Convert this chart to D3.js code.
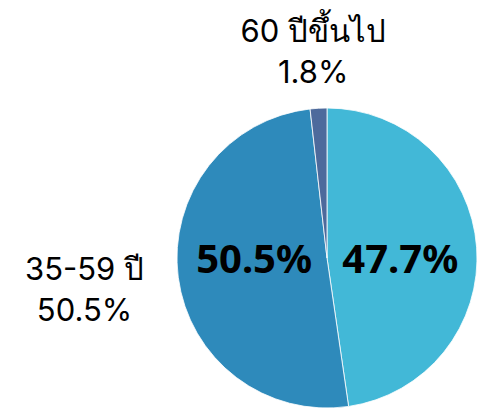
<!DOCTYPE html>
<html>
<head>
<meta charset="utf-8">
<script src="https://cdn.jsdelivr.net/npm/d3@7"></script>
<style>
  body { margin: 0; background: #fff; }
  text { font-family: "Noto Sans", "DejaVu Sans", sans-serif; }
  text.outer { font-family: Inter, "Noto Sans", sans-serif; }
</style>
</head>
<body>
<div id="chart"></div>
<script>
var svgWidth = 482;
var svgHeight = 410;

// data
var groups = ["15-34 ปี", "35-59 ปี", "60 ปีขึ้นไป"];
var shares = [47.7, 50.5, 1.8];
var colors = ["#42b8d7", "#2e8abb", "#4d6a9c"];

var cx = 327, cy = 258, radius = 150;

var svg = d3.select("#chart")
  .append("svg")
  .attr("width", svgWidth)
  .attr("height", svgHeight);

var pieData = d3.pie().sort(null)(shares);

var arc = d3.arc().innerRadius(0).outerRadius(radius);

var chartGroup = svg.append("g")
  .attr("transform", `translate(${cx}, ${cy})`);

chartGroup.selectAll("path")
  .data(pieData)
  .enter()
  .append("path")
  .attr("d", arc)
  .attr("fill", (d, i) => colors[i])
  .attr("stroke", "#fff")
  .attr("stroke-width", 0.8);

function midAngle(d) { return (d.startAngle + d.endAngle) / 2; }

// big bold values inside the two large slices
var inR = radius * 0.49;
chartGroup.selectAll("text.inner")
  .data(pieData.filter(d => d.value > 10))
  .enter()
  .append("text")
  .attr("class", "inner")
  .attr("x", d => inR * Math.sin(midAngle(d)))
  .attr("y", 15)
  .attr("text-anchor", "middle")
  .style("font-size", "40px")
  .style("font-weight", "bold")
  .attr("fill", "#000")
  .text(d => d.value.toFixed(1) + "%");

// outside labels: name + share, dropped if they fall off the canvas
var outR = radius * 1.63;
var lineH = 41;
var outer = pieData.map(function(d, i) {
  var x = cx + outR * Math.sin(midAngle(d));
  var y = cy - outR * Math.cos(midAngle(d));
  return { x: x, y: Math.max(y, lineH + 10), name: groups[i], value: d.value };
}).filter(d => d.x > 0 && d.x < svgWidth);

var outerText = svg.selectAll("text.outer")
  .data(outer)
  .enter()
  .append("text")
  .attr("class", "outer")
  .attr("text-anchor", "middle")
  .style("font-size", "31px")
  .attr("fill", "#000");

outerText.append("tspan")
  .attr("x", d => d.x)
  .attr("y", d => d.y - 9.5)
  .text(d => d.name);

outerText.append("tspan")
  .attr("x", d => d.x)
  .attr("y", d => d.y - 9.5 + lineH)
  .text(d => d.value.toFixed(1) + "%");
</script>
</body>
</html>
